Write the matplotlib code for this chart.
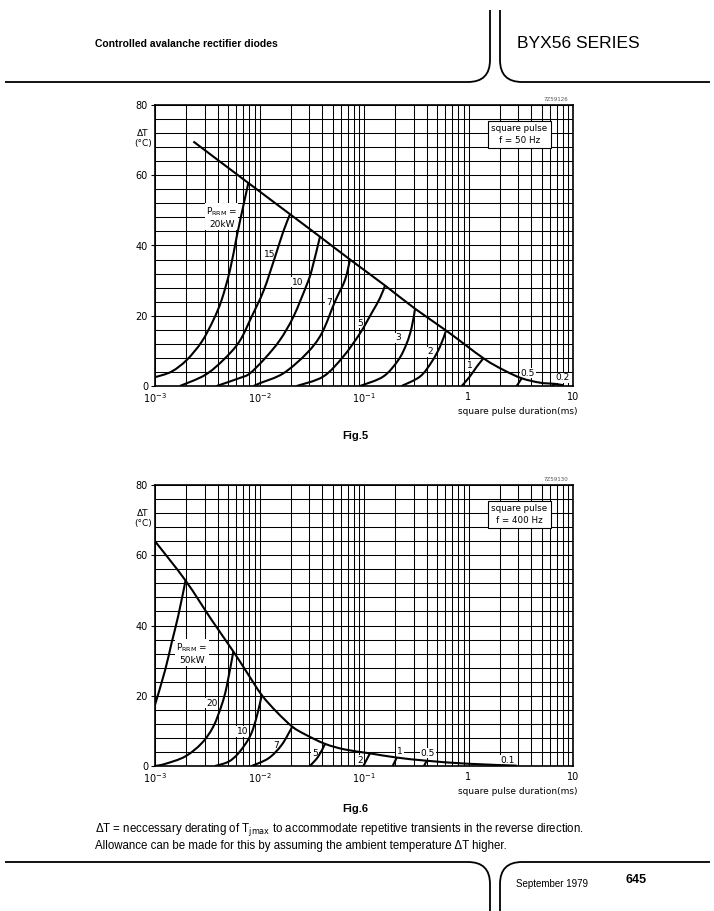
import matplotlib
matplotlib.use("Agg")
import math
import matplotlib.pyplot as plt
from matplotlib.path import Path
from matplotlib.patches import PathPatch

# ---- data (x in ms, dT in degC) ----
# Fig.5  f = 50 Hz
f5_env_x = [2.33e-3, 7.82e-3, 1.96e-2, 3.79e-2, 7.35e-2, 0.159, 0.308, 0.61, 1.39, 2.15, 3.23, 4.83, 6.73, 8.1]
f5_env_t = [69.6, 57.8, 48.9, 42.5, 36.0, 28.6, 22.0, 15.8, 7.9, 4.6, 2.2, 0.95, 0.6, 0.2]

f5_p20_x = [1.0e-3, 1.44e-3, 2.01e-3, 2.80e-3, 3.62e-3, 4.34e-3, 5.22e-3, 6.05e-3, 6.86e-3, 7.82e-3]
f5_p20_t = [2.5, 4.1, 7.4, 12.6, 18.8, 24.5, 33.0, 42.5, 50.1, 57.8]
f5_p15_x = [1.73e-3, 3.0e-3, 4.5e-3, 6.4e-3, 8.4e-3, 1.1e-2, 1.41e-2, 1.69e-2, 1.96e-2]
f5_p15_t = [0, 3.1, 7.4, 12.6, 19.7, 27.3, 36.8, 44.0, 48.9]
f5_p10_x = [3.89e-3, 6.5e-3, 8.1e-3, 1.13e-2, 1.57e-2, 2.11e-2, 2.83e-2, 3.16e-2, 3.79e-2]
f5_p10_t = [0, 2.3, 3.6, 7.9, 13.1, 19.7, 28.8, 33.0, 42.5]
f5_p7_x = [8.8e-3, 1.01e-2, 1.69e-2, 2.83e-2, 3.94e-2, 5.27e-2, 6.58e-2, 7.35e-2]
f5_p7_t = [0, 0.8, 3.6, 9.3, 15.0, 24.0, 30.2, 36.0]
f5_p5_x = [2.27e-2, 4.08e-2, 6.34e-2, 9.16e-2, 0.118, 0.142, 0.159]
f5_p5_t = [0, 2.7, 8.4, 15.0, 20.7, 25.0, 28.6]
f5_p3_x = [9.16e-2, 0.153, 0.213, 0.256, 0.286, 0.308]
f5_p3_t = [0, 2.7, 7.4, 12.1, 16.7, 22.0]
f5_p2_x = [0.229, 0.344, 0.445, 0.534, 0.61]
f5_p2_t = [0, 2.7, 6.9, 11.2, 15.8]
f5_p1_x = [0.861, 1.03, 1.20, 1.39]
f5_p1_t = [0, 2.7, 5.5, 7.9]
f5_p05_x = [2.89, 3.23]
f5_p05_t = [0, 2.2]
f5_p02_x = [6.25, 6.73]
f5_p02_t = [0, 0.6]

f5_labels = ["P$_{\\rm RRM}$ =\n20kW", "15", "10", "7", "5", "3", "2", "1", "0.5", "0.2"]
f5_lab_x = [4.37e-3, 1.26e-2, 2.33e-2, 4.62e-2, 9.16e-2, 0.211, 0.428, 1.04, 3.71, 8.0]
f5_lab_t = [48.0, 37.3, 29.6, 23.9, 17.9, 13.7, 9.7, 5.9, 3.7, 2.3]

# Fig.6  f = 400 Hz
f6_env_x = [1.0e-3, 1.96e-3, 3.48e-3, 5.62e-3, 7.82e-3, 1.05e-2, 1.46e-2, 2.06e-2, 2.73e-2,
            4.24e-2, 6.58e-2, 0.114, 0.206, 0.398, 0.96, 2.89]
f6_env_t = [64.0, 52.8, 41.6, 32.6, 26.0, 20.2, 15.4, 11.2, 9.0, 6.3, 4.7, 3.6, 2.4, 1.5, 0.66, 0.1]

f6_p50_x = [1.0e-3, 1.25e-3, 1.44e-3, 1.67e-3, 1.96e-3]
f6_p50_t = [17.4, 27.3, 35.0, 42.8, 52.8]
f6_p20_x = [1.0e-3, 1.25e-3, 1.94e-3, 2.80e-3, 3.61e-3, 4.35e-3, 4.85e-3, 5.62e-3]
f6_p20_t = [0, 0.6, 2.7, 6.5, 11.2, 17.4, 22.6, 32.6]
f6_p10_x = [3.75e-3, 5.03e-3, 6.27e-3, 8.1e-3, 9.4e-3, 1.05e-2]
f6_p10_t = [0, 1.2, 3.6, 8.4, 14.0, 20.2]
f6_p7_x = [8.4e-3, 1.22e-2, 1.63e-2, 2.06e-2]
f6_p7_t = [0, 2.2, 6.0, 11.2]
f6_p5_x = [3.04e-2, 3.65e-2, 4.24e-2]
f6_p5_t = [0, 2.7, 6.3]
f6_p2_x = [9.86e-2, 0.114]
f6_p2_t = [0, 3.6]
f6_p1_x = [0.188, 0.206]
f6_p1_t = [0, 2.4]
f6_p05_x = [0.375, 0.398]
f6_p05_t = [0, 1.5]

f6_labels = ["P$_{\\rm RRM}$ =\n50kW", "20", "10", "7", "5", "2", "1", "0.5", "0.1"]
f6_lab_x = [2.26e-3, 3.48e-3, 6.84e-3, 1.43e-2, 3.4e-2, 9.16e-2, 0.221, 0.409, 2.39]
f6_lab_t = [32.0, 17.9, 9.8, 5.7, 3.7, 1.7, 4.0, 3.7, 1.7]

xtick_vals = [1e-3, 1e-2, 1e-1, 1, 10]
xtick_labels = ["$10^{-3}$", "$10^{-2}$", "$10^{-1}$", "1", "10"]
ytick_vals = [0, 20, 40, 60, 80]

W, H = 714, 911
fig = plt.figure(figsize=(W / 100, H / 100), dpi=100)
sans = ["Liberation Sans", "DejaVu Sans"]


def smooth_curve(ax, xs, ts):
    # draw a smooth line through the read points (Catmull-Rom as cubic Beziers,
    # worked out in log-x space so it looks right on the log axis)
    sx, sy = 104.5, 3.5125
    pts = [(math.log10(x) * sx, t * sy) for x, t in zip(xs, ts)]
    n = len(pts)
    verts = [pts[0]]
    codes = [Path.MOVETO]
    for i in range(n - 1):
        p0 = pts[max(i - 1, 0)]
        p1 = pts[i]
        p2 = pts[i + 1]
        p3 = pts[min(i + 2, n - 1)]
        c1 = (p1[0] + (p2[0] - p0[0]) / 6, p1[1] + (p2[1] - p0[1]) / 6)
        c2 = (p2[0] - (p3[0] - p1[0]) / 6, p2[1] - (p3[1] - p1[1]) / 6)
        verts += [c1, c2, p2]
        codes += [Path.CURVE4] * 3
    verts = [(10 ** (u / sx), v / sy) for u, v in verts]
    ax.add_patch(PathPatch(Path(verts, codes), facecolor="none", edgecolor="black",
                           lw=1.5, capstyle="butt", transform=ax.transData, zorder=3))


def make_chart(bottom_px, curves, env, labels, lab_x, lab_t, boxtext, code):
    ax = fig.add_axes([155 / W, 1 - bottom_px / H, 418 / W, 281 / H])
    ax.set_xscale("log")
    ax.set_xlim(1e-3, 10)
    ax.set_ylim(0, 80)
    ax.set_xticks(xtick_vals)
    ax.set_xticklabels(xtick_labels, fontsize=7)
    ax.set_xticks([m * d for d in [1e-3, 1e-2, 1e-1, 1] for m in range(2, 10)], minor=True)
    ax.set_yticks(range(0, 81, 4), minor=True)
    ax.set_yticks(ytick_vals)
    ax.set_yticklabels([str(v) for v in ytick_vals], fontsize=7)
    ax.grid(True, which="both", color="black", lw=0.75)
    ax.set_axisbelow(True)
    ax.tick_params(axis="x", which="both", length=0, pad=4)
    ax.tick_params(axis="y", which="minor", length=0)
    ax.tick_params(axis="y", which="major", length=3, width=0.8, pad=2)
    for s in ax.spines.values():
        s.set_linewidth(1.2)
    for cx, ct in curves:
        smooth_curve(ax, cx, ct)
    smooth_curve(ax, env[0], env[1])
    # labels blank out the grid behind them but sit under the curves
    for lab, lx, lt in zip(labels, lab_x, lab_t):
        ax.text(lx, lt, lab, fontsize=6.5, ha="center", va="center", linespacing=1.3,
                bbox=dict(facecolor="white", edgecolor="none", pad=0.6), zorder=2)
    ax.text(0.872, 0.895, boxtext, transform=ax.transAxes, fontsize=6.3, ha="center",
            va="center", linespacing=1.4, zorder=5,
            bbox=dict(facecolor="white", edgecolor="black", lw=0.8, pad=2.5))
    ax.text(0.988, 1.012, code, transform=ax.transAxes, fontsize=4, ha="right", va="bottom",
            color="#555555")
    ax.text(-0.029, 0.88, "ΔT\n(°C)", transform=ax.transAxes, fontsize=6.5, ha="center",
            va="center", linespacing=1.2)
    ax.text(1.01, -0.09, "square pulse duration(ms)", transform=ax.transAxes, fontsize=6.5,
            ha="right", va="center")
    return ax


make_chart(386,
           [(f5_p20_x, f5_p20_t), (f5_p15_x, f5_p15_t), (f5_p10_x, f5_p10_t), (f5_p7_x, f5_p7_t),
            (f5_p5_x, f5_p5_t), (f5_p3_x, f5_p3_t), (f5_p2_x, f5_p2_t), (f5_p1_x, f5_p1_t),
            (f5_p05_x, f5_p05_t), (f5_p02_x, f5_p02_t)],
           (f5_env_x, f5_env_t), f5_labels, f5_lab_x, f5_lab_t,
           "square pulse\nf = 50 Hz", "7Z59126")
make_chart(766,
           [(f6_p50_x, f6_p50_t), (f6_p20_x, f6_p20_t), (f6_p10_x, f6_p10_t), (f6_p7_x, f6_p7_t),
            (f6_p5_x, f6_p5_t), (f6_p2_x, f6_p2_t), (f6_p1_x, f6_p1_t), (f6_p05_x, f6_p05_t)],
           (f6_env_x, f6_env_t), f6_labels, f6_lab_x, f6_lab_t,
           "square pulse\nf = 400 Hz", "7Z59130")

# ---- page furniture (pixel coordinates) ----
page = fig.add_axes([0, 0, 1, 1])
page.set_xlim(0, W)
page.set_ylim(H, 0)
page.axis("off")
page.set_zorder(-1)


def corner_line(pts, codes):
    page.add_patch(PathPatch(Path(pts, codes), facecolor="none", edgecolor="black", lw=1.3))


M, L, C = Path.MOVETO, Path.LINETO, Path.CURVE3
corner_line([(5, 82), (468, 82), (490, 82), (490, 60), (490, 10)], [M, L, C, C, L])
corner_line([(710, 82), (522, 82), (500, 82), (500, 60), (500, 10)], [M, L, C, C, L])
corner_line([(5, 862), (468, 862), (490, 862), (490, 884), (490, 911)], [M, L, C, C, L])
corner_line([(710, 862), (522, 862), (500, 862), (500, 884), (500, 911)], [M, L, C, C, L])

page.text(95, 44, "Controlled avalanche rectifier diodes", family=sans, weight="bold",
          fontsize=7.5, va="center", ha="left")
page.text(517, 44, "BYX56 SERIES", family=sans, fontsize=12.5, va="center", ha="left")
page.text(355, 436, "Fig.5", family=sans, weight="bold", fontsize=8, ha="center", va="center")
page.text(355, 809, "Fig.6", family=sans, weight="bold", fontsize=8, ha="center", va="center")
page.text(95, 829, "ΔT = neccessary derating of T$_{\\rm jmax}$ to accommodate repetitive transients in the reverse direction.",
          family=sans, fontsize=8.3, ha="left", va="center")
page.text(95, 846, "Allowance can be made for this by assuming the ambient temperature ΔT higher.",
          family=sans, fontsize=8.3, ha="left", va="center")
page.text(516, 884, "September 1979", family=sans, fontsize=7, ha="left", va="center")
page.text(626, 880, "645", family=sans, weight="bold", fontsize=9, ha="left", va="center")

fig.savefig("out.png", dpi=100)
